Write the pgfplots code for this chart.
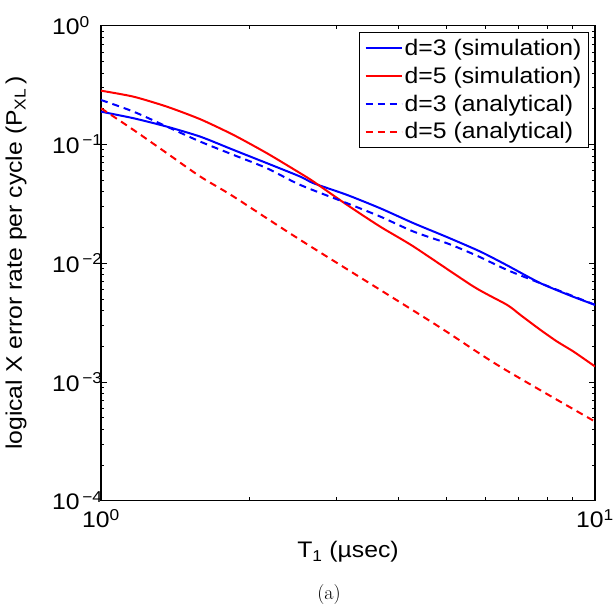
\documentclass[border=0pt]{standalone}
\usepackage{fontspec}
\setsansfont{Liberation Sans}[FakeStretch=1.1]
\usepackage{pgfplots}
\pgfplotsset{compat=1.18}
\newcommand{\cf}{\sffamily\fontsize{22.5}{27}\selectfont}
\begin{document}
\begin{tikzpicture}
\useasboundingbox (-101pt,-107pt) rectangle (512pt,500.7pt);
\begin{axis}[
  at={(0pt,0pt)}, anchor=south west,
  scale only axis, width=494pt, height=475pt,
  xmode=log, ymode=log,
  xmin=1, xmax=10, ymin=1e-4, ymax=1,
  xtick={1,10},
  xticklabels={10\textsuperscript{0},10\textsuperscript{1}},
  minor xtick={2,3,4,5,6,7,8,9},
  ytick={1e-4,1e-3,1e-2,1e-1,1},
  yticklabels={10\textsuperscript{\,−4},10\textsuperscript{\,−3},10\textsuperscript{\,−2},10\textsuperscript{\,−1},10\textsuperscript{0}},
  minor ytick={2e-4,3e-4,4e-4,5e-4,6e-4,7e-4,8e-4,9e-4,
               2e-3,3e-3,4e-3,5e-3,6e-3,7e-3,8e-3,9e-3,
               2e-2,3e-2,4e-2,5e-2,6e-2,7e-2,8e-2,9e-2,
               2e-1,3e-1,4e-1,5e-1,6e-1,7e-1,8e-1,9e-1},
  tick align=inside,
  major tick length=6pt, minor tick length=3.5pt,
  every tick/.style={black, line width=0.8pt},
  axis line style={line width=1.2pt},
  tick label style={font=\cf},
  xticklabel style={yshift=-5pt},
  yticklabel style={anchor=west, xshift=-49pt, inner sep=0pt},
  label style={font=\cf},
  xlabel={T\textsubscript{1} (µsec)},
  xlabel style={at={(axis description cs:0.5,0)}, anchor=base, yshift=-57pt},
  ylabel={logical X error rate per cycle (P\textsubscript{XL}\,)},
  ylabel style={at={(axis description cs:-0.172,0.5)}, anchor=center},
  legend style={at={(axis description cs:1,1)}, anchor=north east, xshift=-6pt, yshift=-6pt,
    draw=black, line width=1pt, font=\cf, inner xsep=5pt, inner ysep=5pt, row sep=6pt},
  legend cell align=left,
  legend image code/.code={\draw[#1] (0pt,0pt) -- (36pt,0pt);},
]
\addplot[blue, line width=2pt, smooth, tension=0.4] coordinates {
(1,0.1888) (1.164,0.1662) (1.360,0.1412) (1.589,0.1163) (1.855,0.0899) (2.168,0.0695)
(2.532,0.0536) (2.694,0.0471) (3.148,0.0376) (3.676,0.0290) (4.294,0.0217) (5.016,0.0166)
(5.859,0.01253) (6.636,0.0096) (7.750,0.0068) (9.051,0.0052) (10,0.00446)};
\addlegendentry{d=3 (simulation)}
\addplot[red, line width=2pt, smooth, tension=0.4] coordinates {
(1,0.2837) (1.164,0.2525) (1.360,0.2080) (1.589,0.1630) (1.855,0.1202) (2.168,0.0843)
(2.532,0.0572) (2.694,0.0486) (3.148,0.0310) (3.676,0.0203) (4.294,0.0138)
(5.679,0.00635) (6.636,0.00446) (7.062,0.00367) (7.750,0.00275)
(8.379,0.00219) (9.051,0.00180) (10,0.00135)};
\addlegendentry{d=5 (simulation)}
\addplot[blue, line width=2pt, dash pattern=on 7pt off 5pt, smooth] coordinates {
(1,0.2368) (1.164,0.1888) (1.360,0.1412) (1.589,0.1056) (1.855,0.0816) (2.168,0.0630)
(2.532,0.0456) (3.148,0.0320) (3.676,0.0247) (4.294,0.01845) (5.016,0.01473)
(5.77,0.01156) (6.636,0.00878) (7.750,0.00679) (10,0.00446)};
\addlegendentry{d=3 (analytical)}
\addplot[red, line width=2pt, dash pattern=on 7pt off 5pt, smooth] coordinates {
(1,0.2017) (1.164,0.1324) (1.360,0.0843) (1.589,0.0536) (1.855,0.0364) (2.532,0.0157)
(4.70,0.00314) (6.42,0.00135) (10,0.000464)};
\addlegendentry{d=5 (analytical)}
\end{axis}
\node[font=\rmfamily\fontsize{20}{24}\selectfont] at (228pt,-94pt) {(a)};
\end{tikzpicture}
\end{document}
